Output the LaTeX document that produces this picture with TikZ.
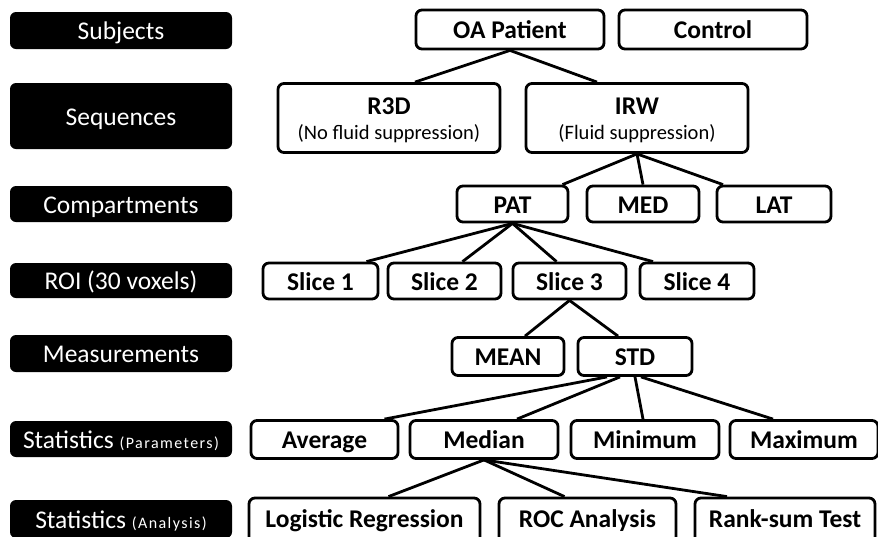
\documentclass[tikz,border=0pt]{standalone}
\usepackage{fontspec}
\setmainfont{Carlito}
\newcommand{\smallpar}[1]{{\fontsize{16}{18}\selectfont\addfontfeature{LetterSpace=9}#1}}
\begin{document}
\begin{tikzpicture}[x=1pt,y=-1pt,
  lab/.style={fill=black,text=white,rounded corners=6pt,minimum width=222pt,inner sep=0pt,text height=21pt,text depth=3pt,font=\fontsize{25.5}{28}\selectfont},
  boxbase/.style={draw=black,line width=2.8pt,rounded corners=6pt,fill=white,inner sep=0pt,font=\bfseries\fontsize{25.5}{28}\selectfont},
  box/.style={boxbase,text height=21pt,text depth=3pt},
  ttl/.style={anchor=base,inner sep=0pt,font=\bfseries\fontsize{25.5}{28}\selectfont},
  sub/.style={anchor=base,inner sep=0pt,font=\fontsize{20.5}{23}\selectfont},
  link/.style={line width=2.8pt}]
\useasboundingbox (0,0) rectangle (878,536);
\clip (0,0) rectangle (878,536);
% left labels
\node[lab,minimum height=37pt] (l1) at (121,30.5) {Subjects};
\node[lab,minimum height=66pt] (l2) at (121,116) {Sequences};
\node[lab,minimum height=36pt] (l3) at (121,204) {Compartments};
\node[lab,minimum height=35pt] (l4) at (121,280.5) {ROI (30 voxels)};
\node[lab,minimum height=37pt] (l5) at (121,353.5) {Measurements};
\node[lab,minimum height=36pt] (l6) at (121,439) {Statistics \smallpar{(Parameters)}};
\node[lab,minimum height=38pt] (l7) at (121,519) {Statistics \smallpar{(Analysis)}};
% subjects
\node[box,minimum width=188pt,minimum height=39pt] (oa) at (510,29.5) {OA Patient};
\node[box,minimum width=188pt,minimum height=39pt] (ctrl) at (713,29.5) {Control};
% sequences
\node[boxbase,minimum width=222pt,minimum height=69pt] (r3d) at (389,118) {};
\node[ttl] (r3dt) at ([yshift=4pt]r3d.center) {R3D};
\node[sub] (r3ds) at ([yshift=-21pt]r3d.center) {(No fluid suppression)};
\node[boxbase,minimum width=222pt,minimum height=69pt] (irw) at (637,118) {};
\node[ttl] (irwt) at ([yshift=4pt]irw.center) {IRW};
\node[sub] (irws) at ([yshift=-21pt]irw.center) {(Fluid suppression)};
% compartments
\node[box,minimum width=111pt,minimum height=36pt] (pat) at (512.5,204) {PAT};
\node[box,minimum width=112pt,minimum height=36pt] (med) at (643,204) {MED};
\node[box,minimum width=114pt,minimum height=36pt] (lat) at (774,204) {LAT};
% ROI
\node[box,minimum width=115pt,minimum height=36pt] (s1) at (320.5,281) {Slice 1};
\node[box,minimum width=113pt,minimum height=36pt] (s2) at (444.5,281) {Slice 2};
\node[box,minimum width=113pt,minimum height=36pt] (s3) at (569.5,281) {Slice 3};
\node[box,minimum width=114pt,minimum height=36pt] (s4) at (697,281) {Slice 4};
% measurements
\node[box,minimum width=112pt,minimum height=38pt] (mean) at (508,356.5) {MEAN};
\node[box,minimum width=114pt,minimum height=38pt] (std) at (635,356.5) {STD};
% statistics parameters
\node[box,minimum width=147pt,minimum height=38pt] (avg) at (324.5,439.5) {Average};
\node[box,minimum width=148pt,minimum height=38pt] (mdn) at (484,439.5) {Median};
\node[box,minimum width=148pt,minimum height=38pt] (min) at (645,439.5) {Minimum};
\node[box,minimum width=148pt,minimum height=38pt] (max) at (804,439.5) {Maximum};
% statistics analysis
\node[box,minimum width=231pt,minimum height=46pt] (lr) at (364.5,521) {\raisebox{2.5pt}{Logistic Regression}};
\node[box,minimum width=177pt,minimum height=46pt] (roc) at (587.5,521) {\raisebox{2.5pt}{ROC Analysis}};
\node[box,minimum width=180pt,minimum height=46pt] (rst) at (785,521) {\raisebox{2.5pt}{Rank-sum Test}};
% connectors
\draw[link] (oa.south) -- ([xshift=26pt]r3d.north);
\draw[link] (oa.south) -- ([xshift=-40pt]irw.north);
\draw[link] (irw.south) -- ([xshift=50pt]pat.north);
\draw[link] (irw.south) -- (med.north);
\draw[link] (irw.south) -- ([xshift=-51pt]lat.north);
\draw[link] (pat.south) -- ([xshift=46pt]s1.north);
\draw[link] (pat.south) -- ([xshift=18pt]s2.north);
\draw[link] (pat.south) -- ([xshift=-13pt]s3.north);
\draw[link] (pat.south) -- ([xshift=-44pt]s4.north);
\draw[link] (s3.south) -- ([xshift=17pt]mean.north);
\draw[link] (s3.south) -- ([xshift=-17pt]std.north);
\draw[link] ([xshift=-28pt]std.south) -- ([xshift=60pt]avg.north);
\draw[link] ([xshift=-15pt]std.south) -- ([xshift=33pt]mdn.north);
\draw[link] (std.south) -- ([xshift=-2pt]min.north);
\draw[link] ([xshift=6pt]std.south) -- ([xshift=-31pt]max.north);
\draw[link] (mdn.south) -- ([xshift=24pt]lr.north);
\draw[link] (mdn.south) -- ([xshift=-23pt]roc.north);
\draw[link] (mdn.south) -- ([xshift=-58pt]rst.north);
\end{tikzpicture}
\end{document}
